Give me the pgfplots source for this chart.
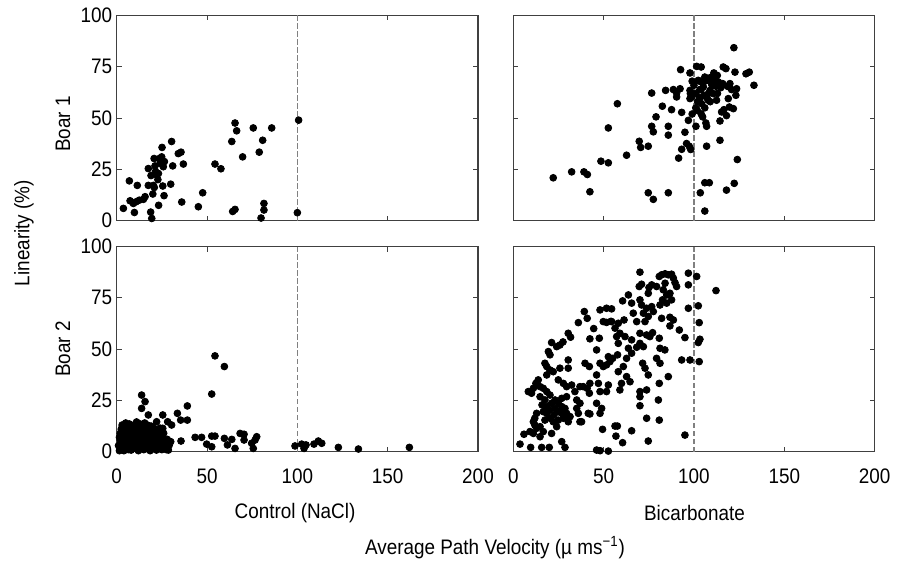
\documentclass[border=0pt]{standalone}
\usepackage{fontspec}
\setmainfont{Liberation Sans}[FakeStretch=0.9]
\usepackage{pgfplots}
\pgfplotsset{compat=1.18}
\pgfplotsset{
  panel/.style={
    scale only axis, width=180.65pt, height=102.6pt,
    xmin=0, xmax=200, ymin=0, ymax=100,
    xtick={0,50,100,150,200}, ytick={0,25,50,75,100},
    anchor=south west,
    axis line style={black!75, line width=0.7pt},
    tick style={black!75, line width=0.5pt},
    major tick length=2.5pt, tick align=inside,
    xtick pos=both, ytick pos=both,
    /pgf/number format/assume math mode=true,
    tick label style={font=\fontsize{10.5}{12}\selectfont, black},
    xticklabel style={yshift=-5pt},
    yticklabel style={xshift=1.2pt},
  },
  dots/.style={only marks, mark=*, mark size=1.7pt, black},
  vline/.style={black!50, dash pattern=on 2.6pt off 1.4pt, line width=0.6pt, no marks},
}
\begin{document}
\begin{tikzpicture}
\useasboundingbox (0,0) rectangle (448.5pt,283.5pt);
% Top left: Boar 1, Control
\begin{axis}[panel, at={(58.35pt,173.15pt)}, xticklabels={}]
\addplot[vline] coordinates {(100,0) (100,100)};
\addplot[dots] coordinates {
(3.7,6) (7,19.4) (7.4,9.7) (9.2,8.4) (9.8,4) (10.7,9.2) (11.4,17.2) (12.5,10)
(14.8,10.4) (15.7,11.7) (17.5,25.4) (17.5,17.2) (18.8,4.2) (19.4,1.1) (20,13)
(20.3,17.2) (20.7,30.3) (20.8,16.2) (21.2,26.7) (22.2,22.2) (23.1,23) (23.2,7.5)
(23.6,30.3) (24,27.9) (24.9,31.1) (25.1,35.7) (25.5,16.9) (25.8,26.3) (26.2,12.2)
(26.4,28.8) (29.9,17.8) (30.4,38.6) (31,26.7) (34.1,32.7) (35.6,33.4) (36,9.1)
(36.9,27.6) (45.2,6.8) (47.6,13.6) (54.4,27.6) (57.7,25.3) (63.7,38.6) (64.2,4.5)
(65.5,47.6) (65.5,5.5) (66.4,43.8) (69.7,31.1) (75.6,45.2) (78.9,33.4) (79.9,1.3)
(80.8,39.2) (81.5,8.4) (81.5,5.2) (85.8,45.2) (100.7,49) (100,3.9)
(21.5,24) (22.8,20) (19,22)
};
\end{axis}
% Top right: Boar 1, Bicarbonate
\begin{axis}[panel, at={(256.65pt,173.15pt)}, xticklabels={}, yticklabels={}]
\addplot[vline] coordinates {(100,0) (100,100)};
\addplot[dots] coordinates {
(22.1,20.9) (32.3,23.8) (39.1,23.8) (41,22.5) (42.4,14.1) (48.5,29) (52.6,28.2)
(52.6,45.2) (57.6,57) (62.7,31.9) (69.7,38.7) (70.5,35.7) (74.7,36.3) (74.7,13.6)
(76.6,46) (77.5,43.3) (76.6,62.2) (77.5,10.4) (79,50.6) (82.5,55.8) (84.3,63.5)
(85.8,46) (85.8,41.7) (85.8,13.6) (87.6,54.1) (88.6,63.9) (90.4,62.2) (90.4,60.3)
(91.5,30.5) (92.3,64.3) (92.6,73.6) (93.2,52.8) (93.2,34.8) (95,43.1) (95.9,37.6)
(96.9,48.9) (97.4,36.3) (97.8,72) (97.8,63.5) (98.2,34.7) (97.8,59.5) (98.7,60.3)
(101.1,46) (101.5,75.2) (101.8,53.8) (102.4,68.4) (102.9,59) (103.3,63.9) (103.5,13.6)
(104,74.9) (104.2,57) (104.8,50.6) (105.2,65.2) (105.5,61.1) (106,4.7) (106,18.5)
(106.6,47.6) (107,36.3) (107,46) (107.4,68.4) (107.9,58.7) (108.5,18.5) (108.9,69.7)
(108.9,63.5) (109.8,66.8) (110.7,61.9) (111.6,68.4) (112.2,65.5) (112.5,58.7)
(112.9,70.8) (113.5,67.6) (114.4,48.6) (114.4,39.2) (114.8,64.8) (115.3,53)
(115.9,66.8) (116.2,74.9) (116.6,54.1) (117.7,74.1) (118,51.2) (118,14.9) (118.5,65.5)
(119,59.5) (119.6,55.4) (119.9,66.8) (120.8,63.9) (121.8,54.6) (122.1,84.3) (122.3,18.2)
(122.7,72.4) (123.2,61.1) (123.6,64.3) (124,29.8) (128.8,71.6) (130.6,72.4) (133.2,66)
(98,62) (100,66) (102,58) (104,64) (106,70) (108,62) (110,66) (103,68) (106,55)
(109,58) (111,72) (113,62) (104,52) (107,60) (101,55) (99,52) (105,67) (110,70)
(99,68) (101,62) (103,60) (112,67)
};
\end{axis}
% Bottom left: Boar 2, Control
\begin{axis}[panel, at={(58.35pt,57.65pt)}]
\addplot[vline] coordinates {(100,0) (100,100)};
\addplot[dots] coordinates {
(13.8,27.6) (15.7,24.4) (13.8,21.1) (17.5,17.9) (22.1,14.6) (25.5,17.9) (25.5,11.4)
(28.2,14.6) (30.4,13) (33.6,18.7) (35.4,15.4) (39.1,15.4) (39.1,22.3) (29.9,4.9)
(28.6,0.8) (35.6,5.2) (43.4,7) (47,7) (49.8,3.7) (52.6,7.6) (52.6,28.1) (54.4,7.6)
(54.4,46.7) (59.6,41.5) (59.6,6.5) (61.3,3.3) (63.7,6) (65.5,1.6) (68.3,8.9)
(70.5,8.5) (70.5,5.7) (74.7,4.1) (75.6,1.6) (76.6,5.7) (77.5,7.3) (52.6,2.4)
(98.7,2.8) (102.4,3.7) (103.7,1.6) (104.8,3.3) (109.2,3.7) (111.6,5.2) (113.5,4.1)
(122.7,2.1) (133.8,1.3) (162,2.1)
(1.5,0.5) (2,2) (2.5,4) (3,1) (3,6) (3.5,3) (4,8) (4,0.5) (4.5,5) (5,2) (5,10)
(5.5,7) (6,4) (6,12) (6.5,1) (7,9) (7,3) (7.5,6) (8,11) (8,0.8) (8.5,4.5) (9,7)
(9,2) (9.5,13) (10,5) (10,9.5) (10.5,1.5) (11,7.5) (11,3.5) (11.5,11) (12,6)
(12,0.5) (12.5,9) (13,4) (13,13.5) (13.5,2) (14,7) (14,11) (14.5,5) (15,1) (15,9)
(15.5,14) (16,3) (16,6.5) (16.5,12) (17,8) (17,1.5) (17.5,4.5) (18,10) (18,6)
(18.5,0.5) (19,3) (19,12.5) (19.5,7.5) (20,5) (20,9.5) (20.5,1.5) (21,11) (21,3.5)
(21.5,6) (22,8.5) (22,0.8) (22.5,4) (23,10) (23,2) (23.5,6.5) (24,8) (24,3) (25,5)
(25,1) (25.5,7) (26,9) (26,2.5) (27,4.5) (27.5,1) (28,6) (2,9) (2.5,11) (3,13)
(4,12) (5,14) (6,9) (7,13.5) (8,6) (9,10.5) (10,12.5) (11,14.5) (12,3) (13,8)
(14,1.5) (15,5.5) (16,10) (17,13) (18,2.5) (19,9) (20,12) (21,8) (22,5) (23,7)
(24,11.5) (1,3) (1.5,7) (2,5.5) (3.5,9.5) (6.5,11) (8.5,8) (9.5,5.5) (10.5,7)
(11.5,4.5) (12.5,2.5) (13.5,10) (14.5,8.5) (15.5,3) (16.5,7.5) (17.5,6) (19,5)
(20,2) (21,6.5) (29,3)
};
\end{axis}
% Bottom right: Boar 2, Bicarbonate
\begin{axis}[panel, at={(256.65pt,57.65pt)}, yticklabels={}]
\addplot[vline] coordinates {(100,0) (100,100)};
\addplot[dots] coordinates {
(70.1,87.5) (69.7,80.5) (71,81.6) (75.1,80) (76.6,81.3) (74.7,77.2) (79.3,80.5)
(80.8,85.4) (82.1,86.2) (84,86.7) (85.8,86.2) (87.6,86.5) (88.6,84.6) (89.5,82.4)
(90.4,80.5) (84,82.1) (83,78.9) (84.9,76.4) (86.7,77.2) (87.6,74) (84.9,72.4)
(82.6,74) (81.2,71.5) (96.9,87) (101.5,85.4) (96.9,81.3) (112.2,78.5) (96.9,69.9)
(102.4,71.1) (70.1,74) (71,71.5) (73.8,69.9) (76.6,70.7) (77.5,68.3) (72,67.5)
(74.7,65.9) (72.9,63.4) (68.3,63.4) (60.5,73.5) (63.7,76.4) (65.5,72.4) (66.4,67.5)
(61.3,64.2) (58.1,62.6) (56.3,60.2) (54.4,63.4) (49.8,63.4) (48,69.1) (51.6,69.9)
(54.4,69.6) (39.3,68.3) (40.9,65) (36,62.9) (82.1,65) (86.7,65.5) (88.6,64.2)
(86.7,61.3) (91.9,59.3) (102.9,62.9) (95,55.6) (103.3,54.8) (102.4,53.2) (93.2,44.7)
(97.8,44.7) (102.9,43.9) (73.8,56.9) (75.6,56.1) (77.1,58) (80.8,55.3) (81.2,50.4)
(83.9,49.6) (79.3,45.5) (81.2,43.1) (85.8,36.6) (80.8,33.3) (80.3,25.2) (80.8,15.4)
(73.8,16.3) (74.7,5.2) (95,8.1) (70.1,57.7) (70.1,52.8) (72,51.2) (68.3,50.9)
(65.5,54.5) (63.7,50.4) (65.5,48) (62.7,45.5) (57.7,47.2) (55,45.5) (53.5,43.9)
(51.6,42.3) (49.8,41.5) (48,43.1) (52.6,46.3) (60.9,41.5) (58.1,39) (62.7,36.6)
(64.6,34.1) (71.6,43.1) (72.9,40.7) (74.7,37.4) (59.9,33.3) (59,30.1) (52.6,32.5)
(51.6,29.3) (48,29.3) (47.1,33.3) (46.1,37.4) (42.1,41.5) (39.7,43.1) (42.4,55)
(47.6,55.3) (46.1,49.6) (57.2,56.1) (59,57.7) (58.1,52.8) (61.8,56.1) (70.1,29.3)
(70.1,26.8) (70.1,22.4) (73.8,30.1) (46.1,23.6) (48.9,21.1) (48,18.7) (41.5,18.7)
(37.8,14.6) (36,18.7) (36.9,23.6) (35.1,25.2) (34.1,29.3) (36.9,31.7) (38.7,31.7)
(40.9,30.9) (42.1,28.5) (42.4,33.3) (30.4,57.7) (31.7,55.8) (25.8,52) (24,51.2)
(21.2,53.2) (19.4,48.8) (20.3,47.2) (30.4,44.7) (30.4,40.7) (25.8,40.7) (17.5,43.1)
(18.5,41.5) (20.3,39.8) (22.1,39) (18.5,37.4) (24.9,35) (27.7,33.3) (29.5,31.7)
(32.3,32.5) (29.5,26.8) (26.8,26) (13.8,35) (12.5,33.3) (14.8,31.7) (16.6,30.9)
(8.3,29.3) (10.1,28.5) (11.1,30.9) (18.5,29.3) (20.3,27.6) (14.8,26.8) (17.5,25.2)
(15.9,22.8) (18.5,22) (21.2,23.6) (23.1,25.2) (24.9,23.6) (26.8,22) (28.6,21.1)
(23.1,21.1) (20.3,20.3) (18.5,18.7) (16.6,19.5) (12.9,18.7) (11.9,16.3) (11.1,14.6)
(11.9,13) (12.9,11.4) (14.8,12.2) (17.5,15.4) (20.3,16.3) (22.5,17.9) (24.9,19.5)
(26.8,18.7) (29.5,18.7) (22.1,14.6) (24.9,15.4) (27.7,16.3) (30.4,14.6) (31.4,17.1)
(24,12.2) (21.2,8.9) (16.6,9.8) (14.8,7.3) (11.1,8.9) (5.9,8.5) (9.2,9.8) (3.7,3.7)
(9.6,2.1) (15.7,2.1) (19.9,2.1) (26.8,4.9) (28.6,2.1) (46.1,0.8) (48,0.5) (52.6,0.3)
(49.4,10.9) (56.3,12.5) (57.6,12.5) (56.8,7.6) (60.5,4.4) (65.5,10.2) (36.9,14.6)
(42.4,18.4) (35.1,21.1) (51.6,63) (54,63.5) (27.5,53.5) (44.5,60)
};
\end{axis}
\node[rotate=90, font=\fontsize{10.5}{12}\selectfont] at (12pt,167pt) {Linearity (\%)};
\node[rotate=90, font=\fontsize{10.5}{12}\selectfont] at (31.5pt,221.5pt) {Boar 1};
\node[rotate=90, font=\fontsize{10.5}{12}\selectfont] at (31.5pt,109pt) {Boar 2};
\node[font=\fontsize{10.5}{12}\selectfont] at (147.5pt,27pt) {Control (NaCl)};
\node[font=\fontsize{10.5}{12}\selectfont] at (347.25pt,27pt) {Bicarbonate};
\node[font=\fontsize{10.5}{12}\selectfont] at (247.5pt,9.5pt) {Average Path Velocity (µ ms\textsuperscript{−1})};
\end{tikzpicture}
\end{document}
